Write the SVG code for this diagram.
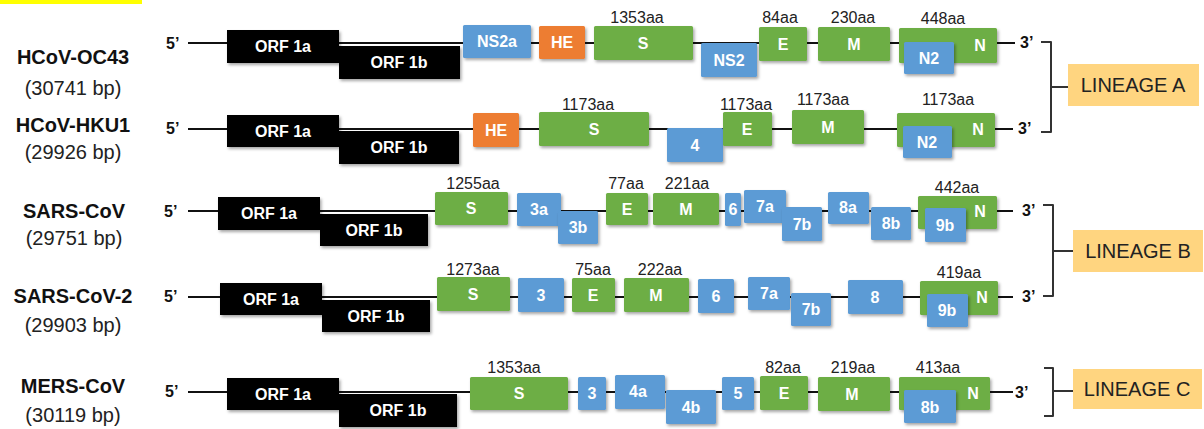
<svg xmlns="http://www.w3.org/2000/svg" width="1204" height="429" viewBox="0 0 1204 429">
  <defs>
    <filter id="shadow" x="-20%" y="-20%" width="140%" height="160%">
      <feDropShadow dx="1.5" dy="2" stdDeviation="1.4" flood-color="#000" flood-opacity="0.35"/>
    </filter>
  </defs>
  <style>
    rect.k { fill: #000; filter: url(#shadow); }
    rect.g { fill: #6DAE45; filter: url(#shadow); }
    rect.b { fill: #5B9BD5; filter: url(#shadow); }
    rect.o { fill: #ED7D31; filter: url(#shadow); }
    rect.g, rect.b, rect.o { rx: 1.5px; }
    rect.lin { fill: #FFD580; }
    text { font-family: "Liberation Sans", Arial, sans-serif; }
    .lbl { fill: #fff; font-weight: bold; font-size: 16px; text-anchor: middle; }
    .orf { fill: #fff; font-weight: bold; font-size: 16px; text-anchor: middle; }
    .aa { fill: #222; font-size: 16px; text-anchor: middle; }
    .name { fill: #111; font-weight: bold; font-size: 20px; text-anchor: middle; }
    .bp { fill: #222; font-size: 20px; text-anchor: middle; }
    .end { fill: #111; font-weight: bold; font-size: 16px; }
    .lintxt { fill: #222; font-size: 20px; text-anchor: middle; }
    .backbone { stroke: #111; stroke-width: 2; fill: none; }
    .brace { stroke: #333; stroke-width: 2; fill: none; stroke-linejoin: round; }
  </style>

  <rect x="0" y="0" width="142" height="4" fill="#FFFF00"/>

  <!-- genome backbones and lineage braces -->
  <g id="connectors">
    <path class="backbone" d="M188,43 H1015"/>
    <path class="backbone" d="M188,129 H1013"/>
    <path class="backbone" d="M188,211 H1013"/>
    <path class="backbone" d="M188,297 H1013"/>
    <path class="backbone" d="M188,392 H1013"/>
    <path class="brace" d="M1041,42 H1051 V132 H1041 M1051,87 H1068"/>
    <path class="brace" d="M1043,205 H1053 V296 H1043 M1053,251 H1073"/>
    <path class="brace" d="M1044,368 H1053 V416 H1044 M1053,391 H1073"/>
  </g>

  <!-- HCoV-OC43 -->
  <g id="oc43">
    <text class="name" x="73" y="64">HCoV-OC43</text>
    <text class="bp" x="73" y="95">(30741 bp)</text>
    <text class="end" x="166" y="49">5’</text>
    <text class="end" x="1020" y="48">3’</text>
    <g id="oc43-orf1a"><rect class="k" x="227" y="30" width="112" height="33"/><text class="orf" x="283" y="52">ORF 1a</text></g>
    <g id="oc43-orf1b"><rect class="k" x="339" y="46" width="121" height="33"/><text class="orf" x="399" y="68">ORF 1b</text></g>
    <g id="oc43-ns2a"><rect class="b" x="463" y="25" width="68" height="33"/><text class="lbl" x="497" y="47">NS2a</text></g>
    <g id="oc43-he"><rect class="o" x="539" y="26" width="46" height="33"/><text class="lbl" x="562" y="48">HE</text></g>
    <g id="oc43-s"><rect class="g" x="594" y="26" width="99" height="34"/><text class="lbl" x="643" y="49">S</text><text class="aa" x="637" y="23">1353aa</text></g>
    <g id="oc43-ns2"><rect class="b" x="701" y="43" width="56" height="34"/><text class="lbl" x="729" y="66">NS2</text></g>
    <g id="oc43-e"><rect class="g" x="759" y="27" width="48" height="34"/><text class="lbl" x="783" y="50">E</text><text class="aa" x="780" y="23">84aa</text></g>
    <g id="oc43-m"><rect class="g" x="818" y="27" width="72" height="34"/><text class="lbl" x="854" y="50">M</text><text class="aa" x="853" y="23">230aa</text></g>
    <g id="oc43-n"><rect class="g" x="899" y="28" width="98" height="35"/><text class="lbl" x="980" y="51">N</text><text class="aa" x="943" y="24">448aa</text></g>
    <g id="oc43-n2"><rect class="b" x="904" y="42" width="50" height="32"/><text class="lbl" x="929" y="64">N2</text></g>
  </g>

  <!-- HCoV-HKU1 -->
  <g id="hku1">
    <text class="name" x="73" y="132">HCoV-HKU1</text>
    <text class="bp" x="73" y="159">(29926 bp)</text>
    <text class="end" x="166" y="134">5’</text>
    <text class="end" x="1018" y="134">3’</text>
    <g id="hku1-orf1a"><rect class="k" x="227" y="115" width="112" height="32"/><text class="orf" x="283" y="137">ORF 1a</text></g>
    <g id="hku1-orf1b"><rect class="k" x="339" y="131" width="120" height="33"/><text class="orf" x="399" y="153">ORF 1b</text></g>
    <g id="hku1-he"><rect class="o" x="473" y="113" width="46" height="34"/><text class="lbl" x="496" y="136">HE</text></g>
    <g id="hku1-s"><rect class="g" x="539" y="112" width="110" height="34"/><text class="lbl" x="594" y="135">S</text><text class="aa" x="588" y="110">1173aa</text></g>
    <g id="hku1-4"><rect class="b" x="667" y="128" width="56" height="34"/><text class="lbl" x="695" y="151">4</text></g>
    <g id="hku1-e"><rect class="g" x="723" y="112" width="49" height="34"/><text class="lbl" x="747" y="135">E</text><text class="aa" x="746" y="110">1173aa</text></g>
    <g id="hku1-m"><rect class="g" x="792" y="110" width="72" height="34"/><text class="lbl" x="828" y="133">M</text><text class="aa" x="823" y="105">1173aa</text></g>
    <g id="hku1-n"><rect class="g" x="897" y="113" width="98" height="34"/><text class="lbl" x="978" y="135">N</text><text class="aa" x="948" y="105">1173aa</text></g>
    <g id="hku1-n2"><rect class="b" x="903" y="126" width="49" height="32"/><text class="lbl" x="927" y="148">N2</text></g>
  </g>

  <!-- SARS-CoV -->
  <g id="sars">
    <text class="name" x="74" y="218">SARS-CoV</text>
    <text class="bp" x="74" y="245">(29751 bp)</text>
    <text class="end" x="164" y="217">5’</text>
    <text class="end" x="1022" y="216">3’</text>
    <g id="sars-orf1a"><rect class="k" x="218" y="197" width="102" height="33"/><text class="orf" x="269" y="219">ORF 1a</text></g>
    <g id="sars-orf1b"><rect class="k" x="320" y="214" width="108" height="32"/><text class="orf" x="374" y="236">ORF 1b</text></g>
    <g id="sars-s"><rect class="g" x="435" y="192" width="73" height="33"/><text class="lbl" x="471" y="214">S</text><text class="aa" x="473" y="189">1255aa</text></g>
    <g id="sars-3a"><rect class="b" x="517" y="193" width="44" height="33"/><text class="lbl" x="539" y="215">3a</text></g>
    <g id="sars-3b"><rect class="b" x="558" y="211" width="40" height="33"/><text class="lbl" x="578" y="233">3b</text></g>
    <g id="sars-e"><rect class="g" x="606" y="193" width="42" height="32"/><text class="lbl" x="627" y="215">E</text><text class="aa" x="626" y="189">77aa</text></g>
    <g id="sars-m"><rect class="g" x="653" y="193" width="66" height="32"/><text class="lbl" x="686" y="215">M</text><text class="aa" x="687" y="189">221aa</text></g>
    <g id="sars-6"><rect class="b" x="725" y="193" width="16" height="33"/><text class="lbl" x="733" y="215">6</text></g>
    <g id="sars-7a"><rect class="b" x="744" y="190" width="42" height="33"/><text class="lbl" x="765" y="212">7a</text></g>
    <g id="sars-7b"><rect class="b" x="782" y="207" width="40" height="34"/><text class="lbl" x="802" y="230">7b</text></g>
    <g id="sars-8a"><rect class="b" x="828" y="192" width="41" height="32"/><text class="lbl" x="848" y="213">8a</text></g>
    <g id="sars-8b"><rect class="b" x="871" y="207" width="40" height="33"/><text class="lbl" x="891" y="229">8b</text></g>
    <g id="sars-n"><rect class="g" x="918" y="196" width="79" height="33"/><text class="lbl" x="980" y="217">N</text><text class="aa" x="957" y="193">442aa</text></g>
    <g id="sars-9b"><rect class="b" x="925" y="208" width="41" height="34"/><text class="lbl" x="945" y="231">9b</text></g>
  </g>

  <!-- SARS-CoV-2 -->
  <g id="sars2">
    <text class="name" x="73" y="303">SARS-CoV-2</text>
    <text class="bp" x="73" y="332">(29903 bp)</text>
    <text class="end" x="164" y="302">5’</text>
    <text class="end" x="1022" y="302">3’</text>
    <g id="sars2-orf1a"><rect class="k" x="220" y="283" width="102" height="32"/><text class="orf" x="271" y="305">ORF 1a</text></g>
    <g id="sars2-orf1b"><rect class="k" x="322" y="300" width="108" height="32"/><text class="orf" x="376" y="322">ORF 1b</text></g>
    <g id="sars2-s"><rect class="g" x="437" y="277" width="73" height="34"/><text class="lbl" x="473" y="300">S</text><text class="aa" x="473" y="275">1273aa</text></g>
    <g id="sars2-3"><rect class="b" x="518" y="278" width="46" height="34"/><text class="lbl" x="541" y="301">3</text></g>
    <g id="sars2-e"><rect class="g" x="572" y="278" width="43" height="34"/><text class="lbl" x="593" y="301">E</text><text class="aa" x="593" y="275">75aa</text></g>
    <g id="sars2-m"><rect class="g" x="624" y="278" width="65" height="34"/><text class="lbl" x="656" y="301">M</text><text class="aa" x="660" y="275">222aa</text></g>
    <g id="sars2-6"><rect class="b" x="698" y="279" width="36" height="34"/><text class="lbl" x="716" y="302">6</text></g>
    <g id="sars2-7a"><rect class="b" x="748" y="277" width="42" height="33"/><text class="lbl" x="769" y="299">7a</text></g>
    <g id="sars2-7b"><rect class="b" x="791" y="293" width="40" height="33"/><text class="lbl" x="811" y="315">7b</text></g>
    <g id="sars2-8"><rect class="b" x="848" y="280" width="55" height="34"/><text class="lbl" x="875" y="303">8</text></g>
    <g id="sars2-n"><rect class="g" x="920" y="281" width="78" height="34"/><text class="lbl" x="982" y="303">N</text><text class="aa" x="959" y="278">419aa</text></g>
    <g id="sars2-9b"><rect class="b" x="927" y="294" width="41" height="33"/><text class="lbl" x="947" y="316">9b</text></g>
  </g>

  <!-- MERS-CoV -->
  <g id="mers">
    <text class="name" x="73" y="393">MERS-CoV</text>
    <text class="bp" x="73" y="422">(30119 bp)</text>
    <text class="end" x="165" y="397">5’</text>
    <text class="end" x="1015" y="398">3’</text>
    <g id="mers-orf1a"><rect class="k" x="227" y="378" width="112" height="32"/><text class="orf" x="283" y="400">ORF 1a</text></g>
    <g id="mers-orf1b"><rect class="k" x="339" y="394" width="118" height="33"/><text class="orf" x="398" y="416">ORF 1b</text></g>
    <g id="mers-s"><rect class="g" x="470" y="377" width="98" height="33"/><text class="lbl" x="519" y="399">S</text><text class="aa" x="514" y="373">1353aa</text></g>
    <g id="mers-3"><rect class="b" x="578" y="377" width="28" height="33"/><text class="lbl" x="592" y="399">3</text></g>
    <g id="mers-4a"><rect class="b" x="615" y="375" width="50" height="34"/><text class="lbl" x="638" y="397">4a</text></g>
    <g id="mers-4b"><rect class="b" x="666" y="390" width="50" height="34"/><text class="lbl" x="691" y="413">4b</text></g>
    <g id="mers-5"><rect class="b" x="722" y="377" width="32" height="33"/><text class="lbl" x="738" y="399">5</text></g>
    <g id="mers-e"><rect class="g" x="760" y="376" width="48" height="34"/><text class="lbl" x="784" y="399">E</text><text class="aa" x="783" y="373">82aa</text></g>
    <g id="mers-m"><rect class="g" x="818" y="377" width="72" height="34"/><text class="lbl" x="852" y="400">M</text><text class="aa" x="853" y="373">219aa</text></g>
    <g id="mers-n"><rect class="g" x="899" y="377" width="91" height="33"/><text class="lbl" x="973" y="399">N</text><text class="aa" x="938" y="373">413aa</text></g>
    <g id="mers-8b"><rect class="b" x="904" y="390" width="52" height="33"/><text class="lbl" x="930" y="413">8b</text></g>
  </g>

  <!-- lineage labels -->
  <g id="lineage-a"><rect class="lin" x="1068" y="64" width="131" height="42"/><text class="lintxt" x="1133" y="92">LINEAGE A</text></g>
  <g id="lineage-b"><rect class="lin" x="1073" y="230" width="130" height="42"/><text class="lintxt" x="1138" y="258">LINEAGE B</text></g>
  <g id="lineage-c"><rect class="lin" x="1073" y="369" width="129" height="40"/><text class="lintxt" x="1137" y="396">LINEAGE C</text></g>
</svg>
